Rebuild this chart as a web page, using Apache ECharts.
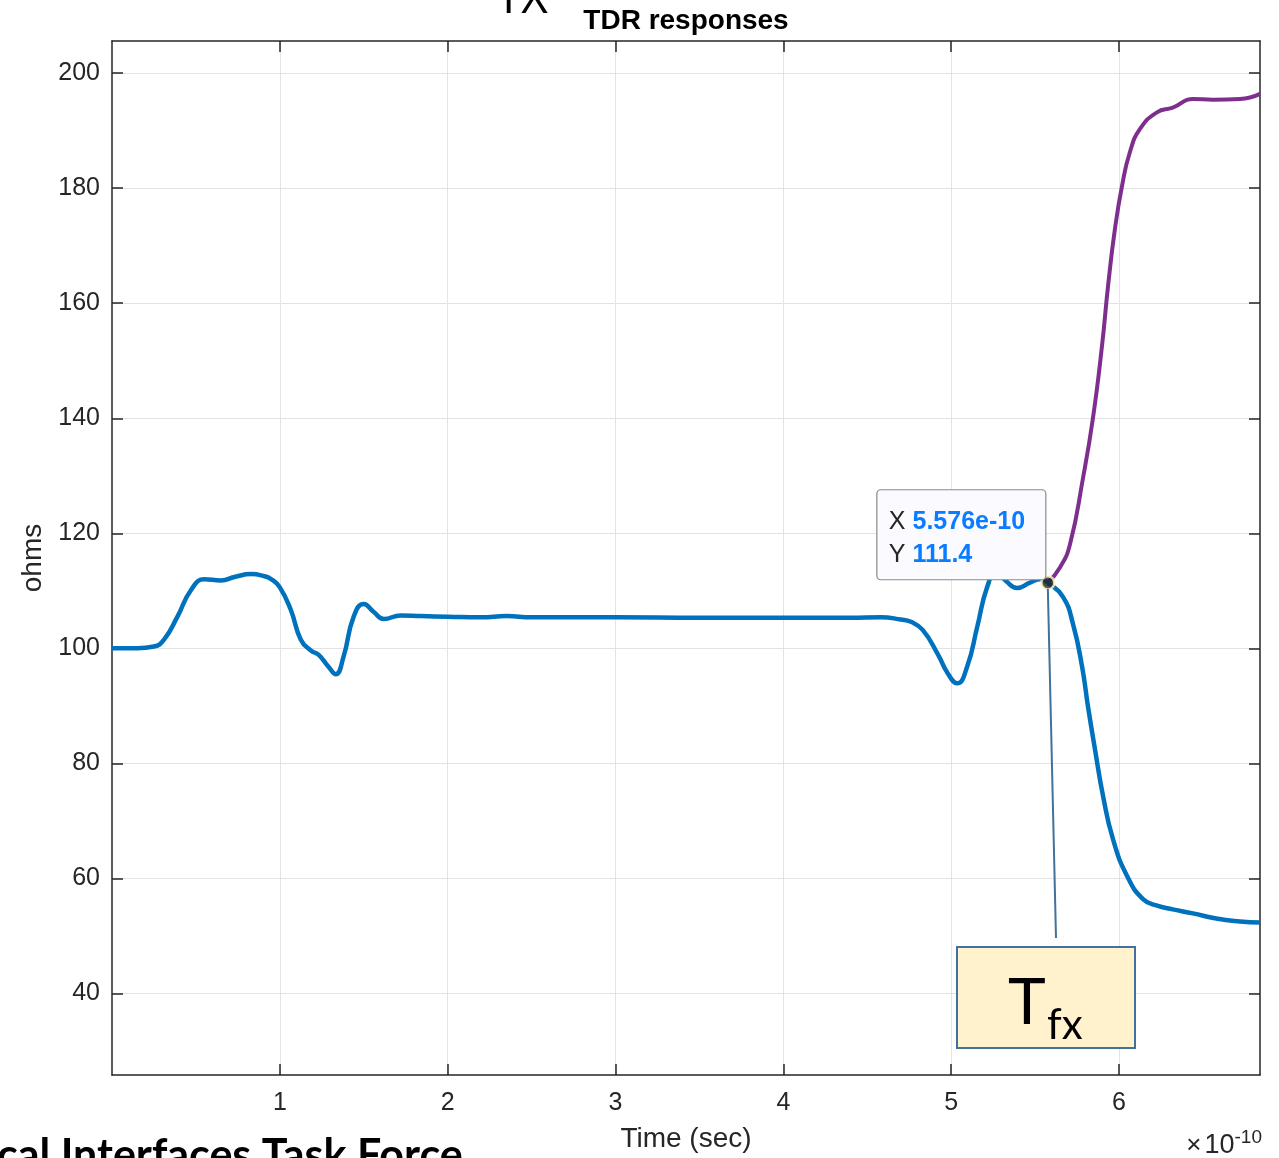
<!DOCTYPE html>
<html>
<head>
<meta charset="utf-8">
<script src="https://cdn.jsdelivr.net/npm/echarts@6/dist/echarts.min.js"></script>
<style>
html,body{margin:0;padding:0;background:#fff;}
#main{width:1279px;height:1158px;}
</style>
</head>
<body>
<div id="main"></div>
<script>
// Time in units of 1e-10 s
const blueX = [0.0,0.15,0.25,0.31,0.39,0.47,0.55,0.65,0.73,0.83,0.90,0.95,1.0,1.065,1.125,1.185,1.23,1.29,1.333,1.38,1.44,1.50,1.56,1.62,1.72,1.84,2.0,2.2,2.35,2.5,3.0,3.5,4.0,4.4,4.58,4.70,4.76,4.83,4.92,4.98,5.036,5.095,5.155,5.214,5.27,5.33,5.393,5.47,5.53,5.576,5.667,5.726,5.78,5.815,5.857,5.905,5.964,6.048,6.143,6.232,6.32,6.44,6.58,6.72,6.84];
const blueY = [100.0,100.0,100.3,101.5,105.5,110.1,112.0,111.8,112.4,112.9,112.6,112.0,110.6,106.7,101.5,99.6,98.9,96.8,95.5,98.6,105.5,107.7,106.3,105.1,105.7,105.6,105.5,105.4,105.6,105.4,105.4,105.3,105.3,105.3,105.4,105.0,104.6,103.2,99.0,95.6,93.9,96.8,103.7,110.6,113.3,111.6,110.5,111.4,112.0,111.4,108.9,104.2,96.8,89.9,82.4,74.3,66.8,60.4,56.4,55.2,54.6,53.9,53.0,52.5,52.3];
const purpleX = [5.576,5.649,5.708,5.786,5.845,5.899,5.935,5.976,6.018,6.065,6.125,6.226,6.32,6.44,6.56,6.72,6.84];
const purpleY = [111.4,114.1,118.1,129.7,140.1,152.7,163.1,173.0,180.4,186.3,190.3,193.2,194.0,195.5,195.4,195.5,196.4];
const xTicks = [1,2,3,4,5,6];
const yTicks = [40,60,80,100,120,140,160,180,200];
const cursorPoint = [5.576, 111.4];
const cursorLabelX = '5.576e-10';
const cursorLabelY = '111.4';

const FONT = '"Liberation Sans", Arial, Helvetica, sans-serif';
const ink = '#262626';
const gridC = '#e3e3e3';

const chart = echarts.init(document.getElementById('main'), null, {renderer:'canvas'});

function pair(xs, ys){ return xs.map((x,i)=>[x, ys[i]]); }

const xRange = {min:0, max:6.84};
const yRange = {min:25.8, max:205.6};

const axisBase = {
  type:'value',
  axisLine:{show:true, onZero:false, lineStyle:{color:ink, width:1.5}},
};

const option = {
  animation:false,
  backgroundColor:'#ffffff',
  grid:{left:112, right:19, top:41, bottom:79, containLabel:false},
  xAxis:[
    Object.assign({}, axisBase, xRange, {
      position:'bottom',
      axisTick:{show:true, inside:true, length:11, customValues:xTicks, lineStyle:{color:ink, width:1.5}},
      axisLabel:{show:true, customValues:xTicks, margin:16, fontSize:25, color:ink, fontFamily:FONT},
      splitLine:{show:true, lineStyle:{color:gridC, width:1}},
      name:'Time (sec)', nameLocation:'middle', nameGap:50,
      nameTextStyle:{fontSize:28, color:ink, fontFamily:FONT}
    }),
    Object.assign({}, axisBase, xRange, {
      position:'top',
      axisTick:{show:true, inside:true, length:11, customValues:xTicks, lineStyle:{color:ink, width:1.5}},
      axisLabel:{show:false}, splitLine:{show:false}
    })
  ],
  yAxis:[
    Object.assign({}, axisBase, yRange, {
      position:'left',
      axisTick:{show:true, inside:true, length:11, customValues:yTicks, lineStyle:{color:ink, width:1.5}},
      axisLabel:{show:true, customValues:yTicks, margin:12, fontSize:25, color:ink, fontFamily:FONT},
      splitLine:{show:true, lineStyle:{color:gridC, width:1}},
      name:'ohms', nameLocation:'middle', nameGap:62, nameRotate:90,
      nameTextStyle:{fontSize:28, color:ink, fontFamily:FONT}
    }),
    Object.assign({}, axisBase, yRange, {
      position:'right',
      axisTick:{show:true, inside:true, length:11, customValues:yTicks, lineStyle:{color:ink, width:1.5}},
      axisLabel:{show:false}, splitLine:{show:false}
    })
  ],
  series:[
    {type:'line', name:'open', data:pair(purpleX, purpleY), showSymbol:false, smooth:0.5,
     lineStyle:{color:'#7E2F8E', width:4}, z:2},
    {type:'line', name:'short', data:pair(blueX, blueY), showSymbol:false, smooth:0.5,
     lineStyle:{color:'#0072BD', width:4.5}, z:3},
    {type:'scatter', data:[cursorPoint], symbolSize:13, z:6,
     itemStyle:{color:'#222222', borderColor:'#fffbc8', borderWidth:2.5}}
  ]
};
chart.setOption(option);

const p = chart.convertToPixel({xAxisIndex:0, yAxisIndex:0}, cursorPoint);
const bx = p[0] - 171, by = p[1] - 93;

chart.setOption({
  graphic:[
    // title
    {type:'text', x:686, y:21, z:10, style:{text:'TDR responses', font:'bold 28px '+FONT, fill:'#000', align:'center', verticalAlign:'middle'}},
    // slide remnants
    {type:'text', x:496, y:23, z:10, style:{text:'TX', font:'46px "Open Sans", Lato, sans-serif', fill:'#000', align:'left', verticalAlign:'bottom'}},
    {type:'text', x:-3, y:1178, z:10, style:{text:'cal Interfaces Task Force', font:'bold 43px Lato, "Open Sans", sans-serif', fill:'#000', align:'left', verticalAlign:'bottom'}},
    // exponent
    {type:'text', x:1262, y:1163, z:10, style:{
      rich:{a:{font:'26px '+FONT, fill:ink, padding:[0,3,0,0]}, b:{font:'27px '+FONT, fill:ink}, c:{font:'19px '+FONT, fill:ink, verticalAlign:'top', padding:[0,0,16,0]}},
      text:'{a|\u00d7}{b|10}{c|-10}', align:'right', verticalAlign:'bottom'}},
    // data tip box
    {type:'rect', z:20, shape:{x:bx, y:by, width:169, height:90, r:4},
     style:{fill:'#fafaff', stroke:'#8a8a8a', lineWidth:1.2}},
    {type:'text', z:21, x:bx+12, y:by+32, style:{
      rich:{k:{font:'25px '+FONT, fill:'#262626'}, v:{font:'bold 25px '+FONT, fill:'#0a7cff'}},
      text:'{k|X }{v|'+cursorLabelX+'}', verticalAlign:'middle'}},
    {type:'text', z:21, x:bx+12, y:by+65, style:{
      rich:{k:{font:'25px '+FONT, fill:'#262626'}, v:{font:'bold 25px '+FONT, fill:'#0a7cff'}},
      text:'{k|Y }{v|'+cursorLabelY+'}', verticalAlign:'middle'}},
    // connector to annotation
    {type:'line', z:15, shape:{x1:p[0], y1:p[1]+6, x2:1056, y2:938}, style:{stroke:'#41719c', lineWidth:2}},
    // Tfx annotation
    {type:'rect', z:15, shape:{x:957, y:947, width:178, height:101}, style:{fill:'#fff2cc', stroke:'#41719c', lineWidth:2}},
    {type:'text', z:16, x:1008, y:1035, style:{text:'T', font:'64px Lato, "Open Sans", sans-serif', fill:'#000', align:'left', verticalAlign:'bottom'}},
    {type:'text', z:16, x:1047, y:1046, style:{text:'fx', font:'42px Lato, "Open Sans", sans-serif', fill:'#000', align:'left', verticalAlign:'bottom'}}
  ]
});
</script>
</body>
</html>
